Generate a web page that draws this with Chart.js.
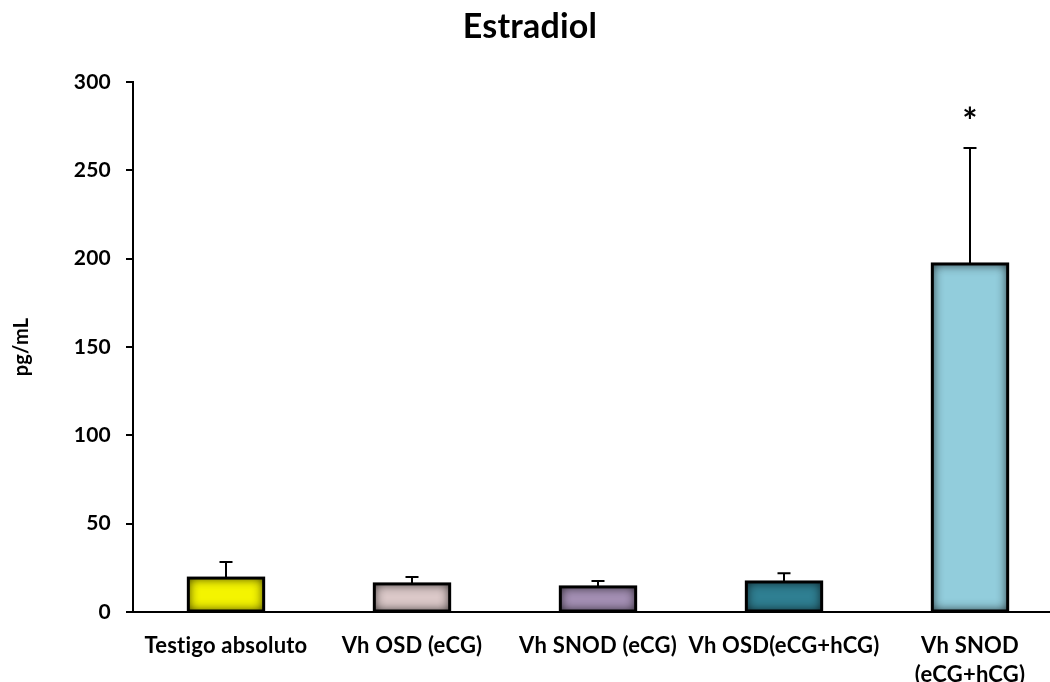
<!DOCTYPE html>
<html>
<head>
<meta charset="utf-8">
<script src="https://cdn.jsdelivr.net/npm/chart.js@4/dist/chart.umd.min.js"></script>
<style>
  html, body { margin: 0; padding: 0; background: #fff; overflow: hidden; }
  #wrap { width: 1070px; height: 682px; }
</style>
</head>
<body>
<div id="wrap"><canvas id="c" width="1070" height="682"></canvas></div>
<script>
// Estradiol concentration (pg/mL) per treatment group
const categories = [
  'Testigo absoluto',
  'Vh OSD (eCG)',
  'Vh SNOD (eCG)',
  'Vh OSD(eCG+hCG)',
  ['Vh SNOD', '(eCG+hCG)']
];
const means = [19.2, 15.9, 14.2, 17.0, 197.0];
const errors = [9.1, 3.9, 3.3, 5.0, 65.6];
const marks = ['', '', '', '', '*'];
const barColors = ['#f4f400', '#dcc9c9', '#a590b5', '#2f7f92', '#92cddc'];
const yTicks = [0, 50, 100, 150, 200, 250, 300];

const FONT = 'Lato, "Open Sans", sans-serif';

// Plain glyphs (no "ti" ligature) for all canvas text
const noLigatures = {
  id: 'noLigatures',
  beforeDraw(chart) {
    if ('letterSpacing' in chart.ctx) chart.ctx.letterSpacing = '0.2px';
  }
};

// Darkened inner edge on each bar, then a black outline
const innerShade = {
  id: 'innerShade',
  afterDatasetsDraw(chart) {
    const ctx = chart.ctx;
    chart.getDatasetMeta(0).data.forEach(bar => {
      const { x, y, base, width } = bar.getProps(['x', 'y', 'base', 'width'], true);
      const l = x - width / 2, t = y, w = width, h = base - y;
      ctx.save();
      ctx.beginPath();
      ctx.rect(l, t, w, h);
      ctx.clip();
      ctx.shadowColor = 'rgba(0,0,0,0.85)';
      ctx.shadowBlur = 11;
      ctx.lineWidth = 10;
      ctx.strokeStyle = 'rgba(0,0,0,1)';
      ctx.strokeRect(l - 5, t - 5, w + 10, h + 10);
      ctx.restore();
      ctx.save();
      ctx.lineWidth = 3;
      ctx.strokeStyle = '#000';
      ctx.strokeRect(l, t, w, h);
      ctx.restore();
    });
  }
};

// Upper error bars and significance marks
const errorBars = {
  id: 'errorBars',
  afterDatasetsDraw(chart) {
    const ctx = chart.ctx;
    const yScale = chart.scales.y;
    chart.getDatasetMeta(0).data.forEach((bar, i) => {
      const x = bar.x;
      const yTop = yScale.getPixelForValue(means[i]);
      const yErr = yScale.getPixelForValue(means[i] + errors[i]);
      ctx.save();
      ctx.strokeStyle = '#000';
      ctx.lineWidth = 2;
      ctx.beginPath();
      ctx.moveTo(x, yTop);
      ctx.lineTo(x, yErr);
      ctx.moveTo(x - 6.5, yErr);
      ctx.lineTo(x + 6.5, yErr);
      ctx.stroke();
      if (marks[i]) {
        ctx.fillStyle = '#000';
        ctx.font = 'bold 36px ' + FONT;
        ctx.textAlign = 'center';
        ctx.textBaseline = 'alphabetic';
        ctx.fillText(marks[i], x, yErr - 14);
      }
      ctx.restore();
    });
  }
};

// Chart heading
const heading = {
  id: 'heading',
  afterDraw(chart) {
    const ctx = chart.ctx;
    ctx.save();
    ctx.fillStyle = '#000';
    ctx.font = 'bold 34px ' + FONT;
    ctx.textAlign = 'center';
    ctx.textBaseline = 'alphabetic';
    ctx.fillText('Estradiol', 530, 38);
    ctx.restore();
  }
};

new Chart(document.getElementById('c'), {
  type: 'bar',
  data: {
    labels: categories,
    datasets: [{
      data: means,
      backgroundColor: barColors,
      borderWidth: 0,
      barPercentage: 0.405,
      categoryPercentage: 1
    }]
  },
  options: {
    responsive: false,
    animation: false,
    devicePixelRatio: 1,
    layout: { padding: { top: 82, right: 7, left: 0, bottom: 0 } },
    plugins: { legend: { display: false }, tooltip: { enabled: false } },
    scales: {
      x: {
        grid: { display: false },
        border: { display: true, color: '#000', width: 2 },
        ticks: {
          color: '#000',
          font: { family: FONT, weight: 'bold', size: 22, lineHeight: 1.3 },
          padding: 12,
          maxRotation: 0,
          autoSkip: false
        },
        afterFit(s) { s.height = 70; }
      },
      y: {
        min: 0,
        max: 300,
        afterBuildTicks(s) { s.ticks = yTicks.map(v => ({ value: v })); },
        grid: { drawOnChartArea: false, drawTicks: true, tickLength: 7, color: '#000', lineWidth: 2 },
        border: { display: true, color: '#000', width: 2 },
        ticks: {
          color: '#000',
          font: { family: FONT, weight: 'bold', size: 21 },
          padding: 15
        },
        title: {
          display: true,
          text: 'pg/mL',
          color: '#000',
          font: { family: FONT, weight: 'bold', size: 20 },
          padding: { top: 10, bottom: 0 }
        },
        afterFit(s) { s.width = 133; }
      }
    }
  },
  plugins: [noLigatures, innerShade, errorBars, heading]
});
</script>
</body>
</html>
